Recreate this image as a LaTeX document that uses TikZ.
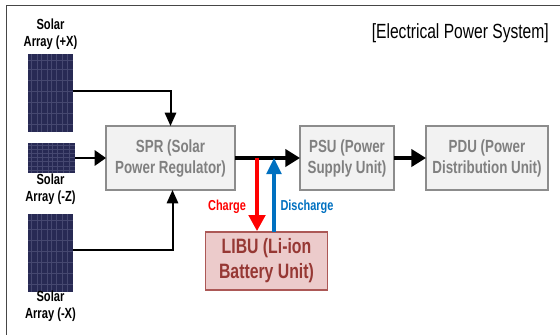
\documentclass[tikz,border=0pt]{standalone}
\usepackage{fontspec}
\setmainfont[FakeStretch=0.76]{Liberation Sans}
\usetikzlibrary{arrows.meta,calc}
\definecolor{frameColor}{RGB}{70,70,70}
\definecolor{boxFill}{RGB}{242,242,242}
\definecolor{boxLine}{RGB}{140,140,140}
\definecolor{boxText}{RGB}{128,128,128}
\definecolor{libuFill}{RGB}{236,203,203}
\definecolor{libuLine}{RGB}{172,88,86}
\definecolor{libuText}{RGB}{150,56,52}
\definecolor{panelFill}{RGB}{40,42,84}
\definecolor{panelGrid}{RGB}{70,72,112}
\definecolor{chargeColor}{RGB}{255,0,0}
\definecolor{dischargeColor}{RGB}{0,112,192}
\newcommand{\pxu}{0.75pt}
\tikzset{
  unitbox/.style={draw=boxLine, fill=boxFill, line width=1.1pt, text=boxText, align=center,
    font=\fontsize{13.2}{15.75}\selectfont\bfseries, inner sep=0pt, outer sep=0pt},
  libubox/.style={unitbox, draw=libuLine, fill=libuFill, text=libuText,
    font=\fontsize{15.6}{18.75}\selectfont\bfseries},
  panel/.style={fill=panelFill, inner sep=0pt, outer sep=0pt,
    path picture={
      \foreach \f in {0.07,0.2,0.3,0.43,0.52,0.63,0.75,0.88}
        \draw[panelGrid, line width=0.35pt]
          ($(path picture bounding box.south west)!\f!(path picture bounding box.south east)$) --
          ($(path picture bounding box.north west)!\f!(path picture bounding box.north east)$);
      \foreach \f in {0.1,0.24,0.38,0.52,0.66,0.8,0.92}
        \draw[panelGrid, line width=0.3pt]
          ($(path picture bounding box.south west)!\f!(path picture bounding box.north west)$) --
          ($(path picture bounding box.south east)!\f!(path picture bounding box.north east)$);
    }},
  arraylabel/.style={align=center, inner sep=0pt, text=black,
    font=\fontsize{11}{12.75}\selectfont\bfseries},
  thinwire/.style={draw=black, line width=1.5pt, -{Triangle[length=10pt,width=8.5pt]}},
  bigwire/.style={draw=black, line width=1.7pt, -{Triangle[length=8.5pt,width=11.5pt]}},
  thickwire/.style={draw=black, line width=2.3pt, -{Triangle[length=11pt,width=13pt]}},
  flowlabel/.style={inner sep=0pt, font=\fontsize{10.8}{13}\selectfont\bfseries}
}

\begin{document}
\begin{tikzpicture}[x=0.75pt, y=-0.75pt]
  \useasboundingbox (0,0) rectangle (560,335);

  % --- Frame: only the top and left sides show ---
  \draw[frameColor, line width=1.2pt] (6.5,335) -- (6.5,5.5) -- (560,5.5);
  \node[anchor=east, inner sep=0pt, font=\fontsize{15.4}{18}\selectfont] (title) at (549,33) {[Electrical Power System]};

  % --- Solar arrays and their labels ---
  \node[panel, minimum width=45*\pxu, minimum height=78*\pxu] (arrPX) at (50.5,93) {};
  \node[panel, minimum width=46.5*\pxu, minimum height=30*\pxu] (arrMZ) at (51.5,158) {};
  \node[panel, minimum width=45*\pxu, minimum height=78*\pxu] (arrMX) at (50.5,253) {};
  \node[arraylabel] (lblPX) at (50.5,34.5) {Solar\\Array (+X)};
  \node[arraylabel] (lblMZ) at (50.5,189.5) {Solar\\Array (-Z)};
  \node[arraylabel] (lblMX) at (50.5,306.5) {Solar\\Array (-X)};

  % --- Units ---
  \node[unitbox, minimum width=129*\pxu, minimum height=64*\pxu] (spr) at (170.5,158) {SPR (Solar\\Power Regulator)};
  \node[unitbox, minimum width=94*\pxu, minimum height=64*\pxu] (psu) at (347,158) {PSU (Power\\Supply Unit)};
  \node[unitbox, minimum width=122*\pxu, minimum height=64*\pxu] (pdu) at (487,158) {PDU (Power\\Distribution Unit)};
  \node[libubox, minimum width=121.5*\pxu, minimum height=58*\pxu] (libu) at (266.5,261) {LIBU (Li-ion\\Battery Unit)};

  % --- Free ends of the connectors ---
  \coordinate (tapPX) at (73,91);
  \coordinate (tapMX) at (73,249.5);
  \coordinate (inMX) at (172.5,190);
  \coordinate (tapCharge) at (257,157.5);
  \coordinate (endCharge) at (257,231);
  \coordinate (startDischarge) at (274,232);
  \coordinate (endDischarge) at (274,158);

  % --- Connectors ---
  \draw[thinwire] (tapPX) -| (spr.north);
  \draw[bigwire] (arrMZ.east) -- (spr.west);
  \draw[thinwire] (tapMX) -| (inMX);
  \draw[thickwire] (spr.east) -- (psu.west);
  \draw[thickwire] (psu.east) -- (pdu.west);
  \draw[chargeColor, line width=2.3pt, -{Triangle[length=12pt,width=12.5pt]}] (tapCharge) -- (endCharge);
  \draw[dischargeColor, line width=2.3pt, -{Triangle[length=12pt,width=11pt]}] (startDischarge) -- (endDischarge);

  % --- Flow labels ---
  \node[flowlabel, text=chargeColor] (lblCharge) at (227,207) {Charge};
  \node[flowlabel, text=dischargeColor] (lblDischarge) at (307,207) {Discharge};

\end{tikzpicture}
\end{document}
